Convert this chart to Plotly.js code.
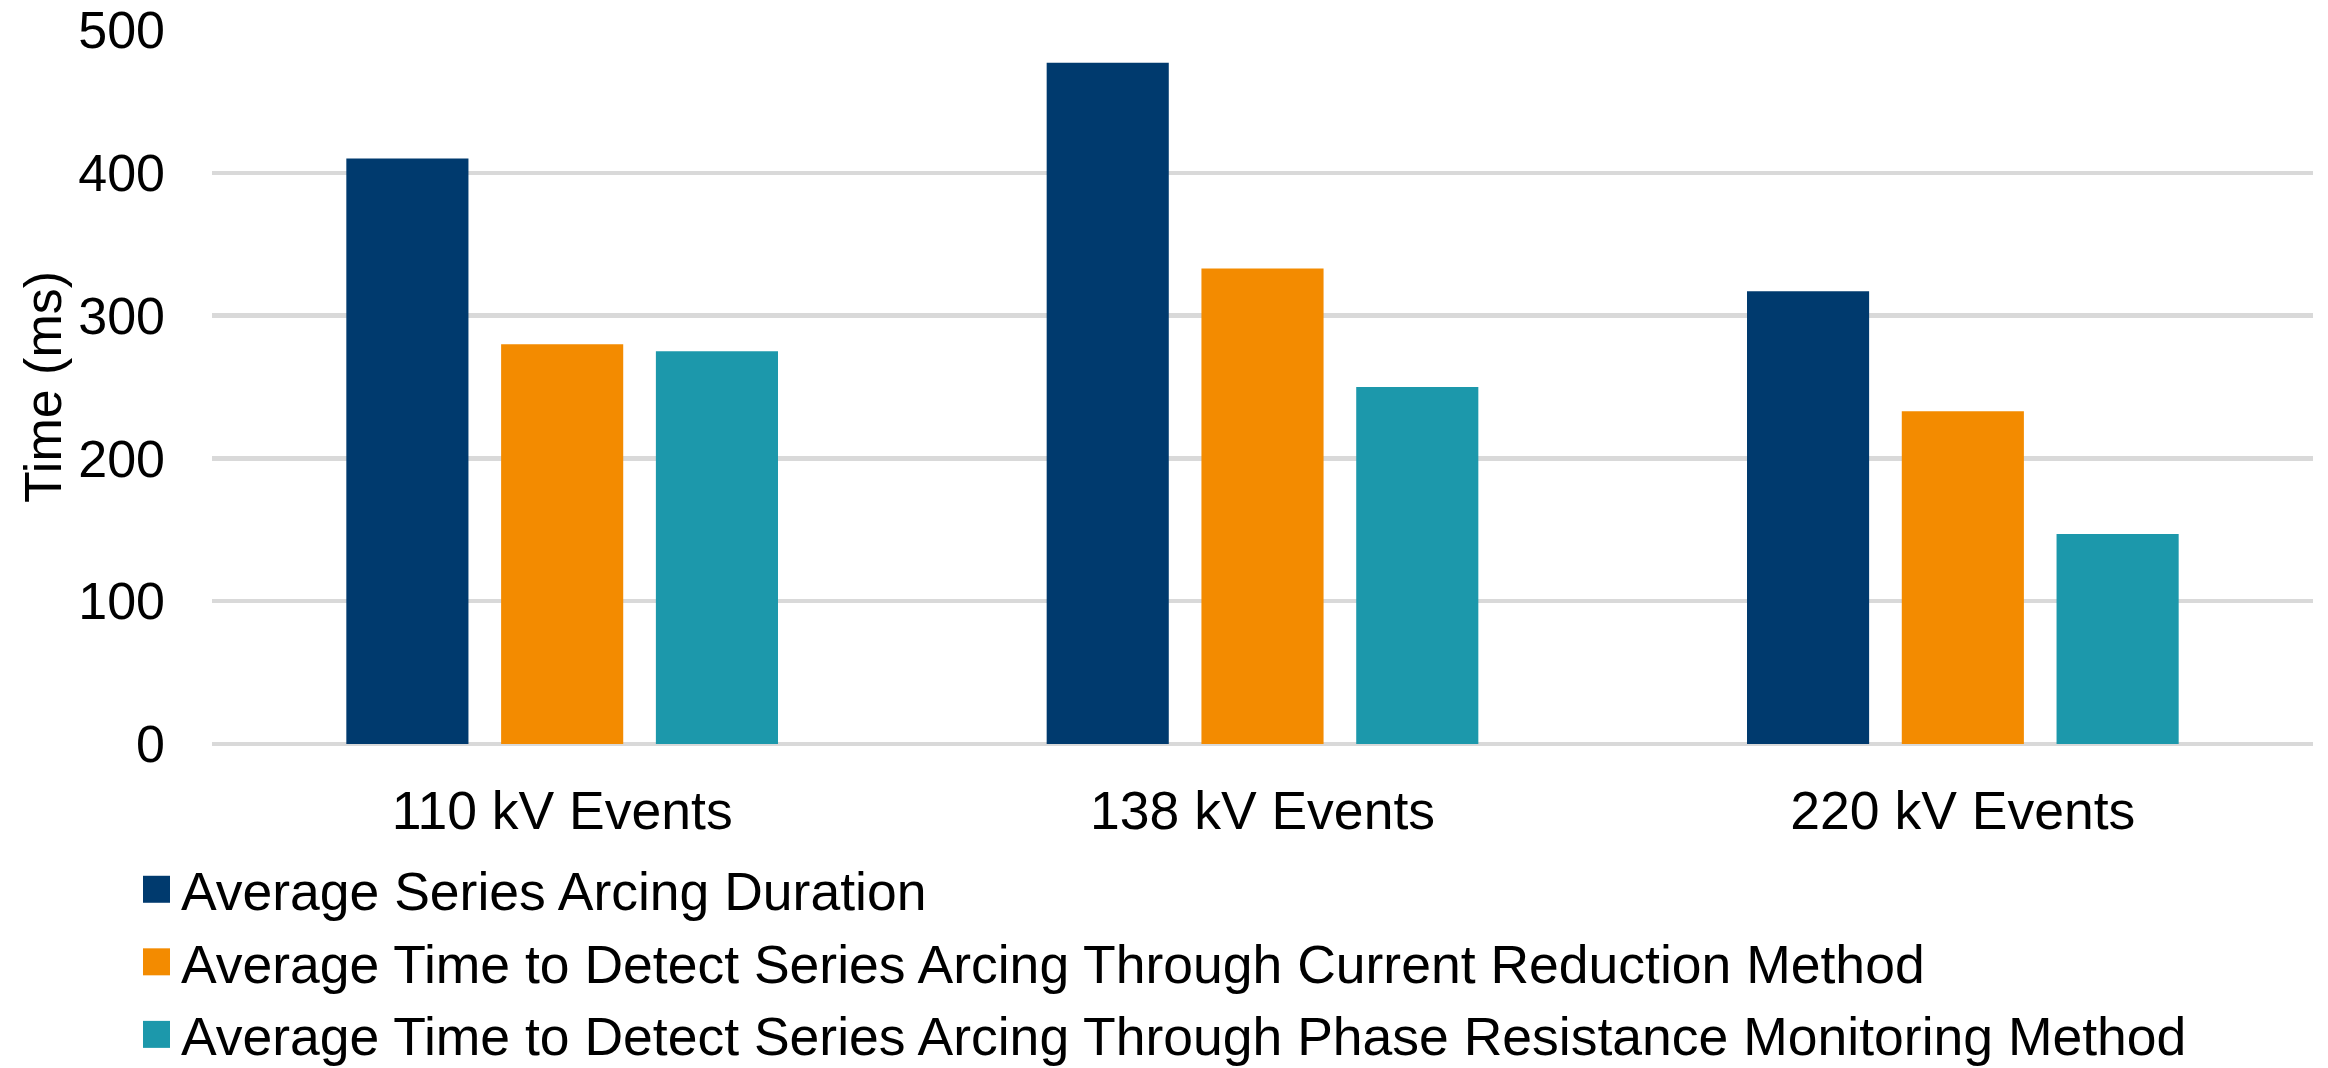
<!DOCTYPE html>
<html>
<head>
<meta charset="utf-8">
<script src="https://cdn.plot.ly/plotly-3.0.1.min.js"></script>
<style>
  html, body { margin: 0; padding: 0; background: #ffffff; }
  #chart { width: 2328px; height: 1068px; }
</style>
</head>
<body>
<div id="chart"></div>
<script>
// Voltage-level categories on the x axis
const categories = ['110 kV Events', '138 kV Events', '220 kV Events'];

// Series names
const seriesNames = [
  'Average Series Arcing Duration',
  'Average Time to Detect Series Arcing Through Current Reduction Method',
  'Average Time to Detect Series Arcing Through Phase Resistance Monitoring Method'
];

// Times in milliseconds, one array per series
const arcingDuration = [410, 477, 317];
const currentReductionDetect = [280, 333, 233];
const phaseResistanceDetect = [275, 250, 147];

// Y axis ticks and title
const yTickValues = [0, 100, 200, 300, 400, 500];
const yAxisTitle = 'Time (ms)';

const seriesValues = [arcingDuration, currentReductionDetect, phaseResistanceDetect];
const seriesColors = ['#003A6E', '#F38B00', '#1C98AB'];

const FONT = 'Arial, "Liberation Sans", Helvetica, sans-serif';

const traces = seriesValues.map((vals, i) => ({
  type: 'bar',
  name: seriesNames[i],
  x: categories,
  y: vals,
  legendgroup: 'g' + i,
  marker: { color: seriesColors[i], line: { width: 0 } },
  hoverinfo: 'x+y+name'
}));

const MARGIN = { l: 212, r: 15, t: 30, b: 324 };
const plotWidth = 2328 - MARGIN.l - MARGIN.r;

const layout = {
  width: 2328,
  height: 1068,
  paper_bgcolor: '#ffffff',
  plot_bgcolor: '#ffffff',
  margin: Object.assign({ autoexpand: false }, MARGIN),
  font: { family: FONT, size: 52, color: '#000000' },
  barmode: 'group',
  bargap: 0.337,
  bargroupgap: 0.211,
  showlegend: true,
  legend: {
    orientation: 'v',
    xref: 'container',
    yref: 'container',
    x: 132 / 2328,
    xanchor: 'left',
    y: 1 - 848 / 1068,
    yanchor: 'top',
    itemwidth: 39,
    tracegroupgap: 0,
    font: { family: FONT, size: 53.5, color: '#000000' },
    bgcolor: 'rgba(0,0,0,0)',
    borderwidth: 0
  },
  xaxis: {
    type: 'category',
    showgrid: false,
    showline: false,
    zeroline: false,
    ticks: '',
    ticklabelstandoff: 30,
    tickfont: { family: FONT, size: 53.5, color: '#000000' },
    fixedrange: true
  },
  yaxis: {
    range: [0, 500],
    tickvals: yTickValues,
    ticktext: yTickValues.map(String),
    showgrid: true,
    gridcolor: '#D9D9D9',
    gridwidth: 4.5,
    zeroline: true,
    zerolinecolor: '#D9D9D9',
    zerolinewidth: 4.5,
    showline: false,
    ticks: '',
    ticklabelstandoff: 46,
    tickfont: { family: FONT, size: 52, color: '#000000' },
    automargin: false,
    fixedrange: true
  },
  // Vertical y-axis title, set to the left of the tick labels
  annotations: [{
    text: yAxisTitle,
    textangle: -90,
    xref: 'paper',
    yref: 'paper',
    x: (43 - MARGIN.l) / plotWidth,
    y: 0.5,
    xanchor: 'center',
    yanchor: 'middle',
    showarrow: false,
    font: { family: FONT, size: 52, color: '#000000' }
  }]
};

// Enlarge the legend swatches (27px squares) and keep them centred in their slot
function enlargeLegendSwatches() {
  document.querySelectorAll('#chart .legend .legendpoints path').forEach(p => {
    p.setAttribute('d', 'M13.5,13.5H-13.5V-13.5H13.5Z');
    p.setAttribute('transform', 'translate(24.5,0)');
  });
}

Plotly.newPlot('chart', traces, layout, { displayModeBar: false, staticPlot: true })
  .then(gd => {
    enlargeLegendSwatches();
    gd.on('plotly_afterplot', enlargeLegendSwatches);
  });
</script>
</body>
</html>
